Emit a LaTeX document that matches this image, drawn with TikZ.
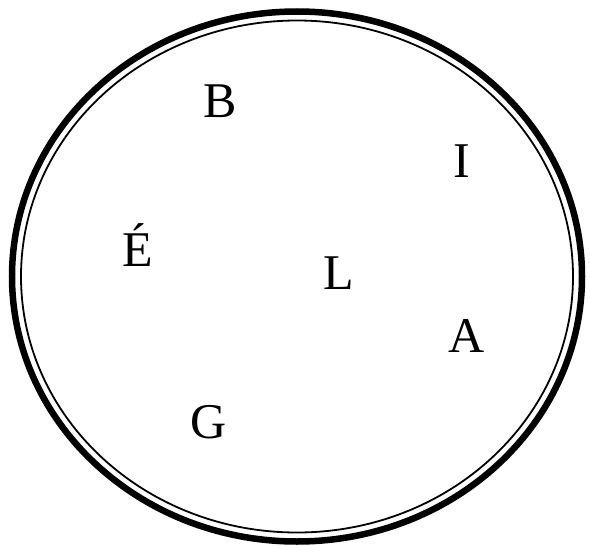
\documentclass[tikz,border=0pt]{standalone}
\usepackage{fontspec}
\setmainfont{Liberation Serif}

\begin{document}
\begin{tikzpicture}[x=1pt, y=-1pt]
  \useasboundingbox (0,0) rectangle (590,546);
  % rings
  \draw[line width=6.5pt] (297,276.5) ellipse [x radius=285, y radius=265];
  \draw[line width=1.8pt] (297,276.5) ellipse [x radius=276, y radius=256];
  % letters
  \tikzset{letter/.style={font=\fontsize{50}{50}\selectfont, inner sep=0pt, anchor=base}}
  \node[letter] (b) at (220,117) {B};
  \node[letter] (i) at (462,177) {I};
  \node[letter] (e) at (138,266) {É};
  \node[letter] (l) at (339,289) {L};
  \node[letter] (a) at (467,352) {A};
  \node[letter] (g) at (209,438) {G};
\end{tikzpicture}
\end{document}
